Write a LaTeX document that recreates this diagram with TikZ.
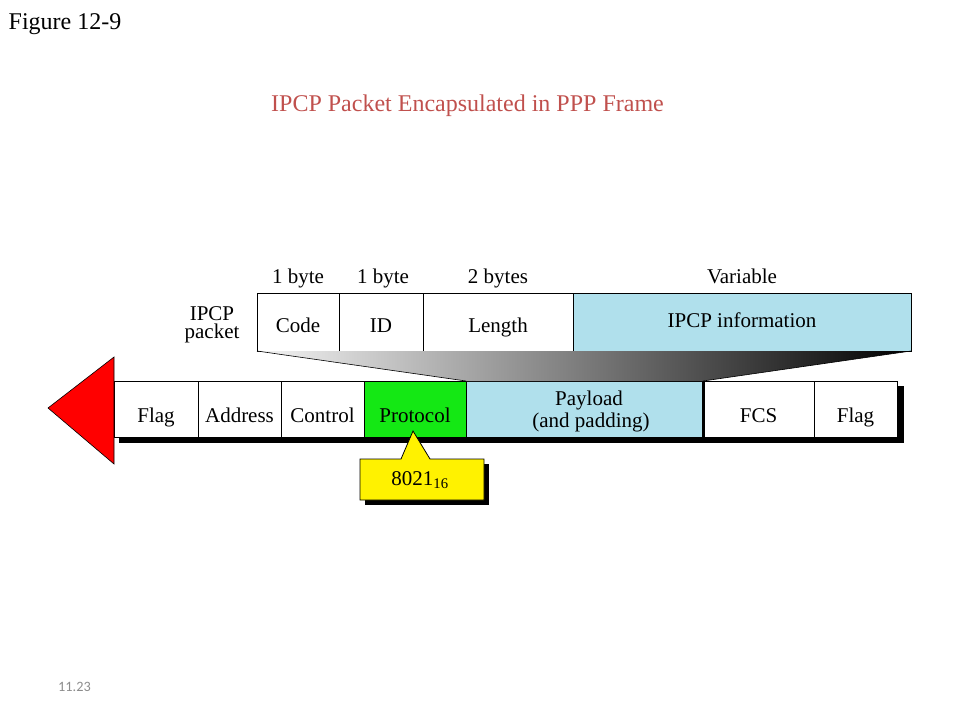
\documentclass[tikz,border=0pt]{standalone}
\usepackage{fontspec}
\setmainfont{Liberation Serif}
\newfontfamily\slidesans{Carlito}
\definecolor{titlered}{RGB}{192,80,77}
\definecolor{lightblue}{RGB}{176,224,236}
\definecolor{brightgreen}{RGB}{20,232,20}
\definecolor{pagegray}{RGB}{140,140,140}
\begin{document}
\begin{tikzpicture}[x=1pt,y=-1pt,
  field/.style={draw=black, line width=0.9pt, inner sep=0pt, outer sep=0pt, fill=white,
    font=\fontsize{21}{23}\selectfont, text depth=0pt},
  framefield/.style={field, minimum height=56pt, text height=26pt},
  packfield/.style={field, minimum height=58pt, text height=20pt},
  txt/.style={font=\fontsize{21}{23}\selectfont, inner sep=0pt, anchor=base}]
\useasboundingbox (0,0) rectangle (960,720);

% headings
\node[anchor=base west, inner sep=0pt, font=\fontsize{24}{26}\selectfont] (fig) at (8.5,29) {Figure 12-9};
\node[anchor=base, inner sep=0pt, text=titlered, font=\fontsize{24}{26}\selectfont] (title) at (467.5,111) {IPCP Packet Encapsulated in PPP Frame};
\node[anchor=base west, inner sep=0pt, text=pagegray, font=\slidesans\fontsize{14.3}{16}\selectfont] (pg) at (58,691.5) {11.23};

% frame shadow
\fill[black] (119,386) rectangle (904,443);

% PPP frame fields
\node[framefield, minimum width=84pt] (flagA) at (156,409) {Flag};
\node[framefield, minimum width=83pt] (addr) at (239.5,409) {Address};
\node[framefield, minimum width=83pt] (ctrl) at (322.5,409) {Control};
\node[framefield, fill=brightgreen, minimum width=102pt] (proto) at (415,409) {Protocol};
\node[framefield, fill=lightblue, minimum width=236pt] (payload) at (584,409) {};
\node[framefield, minimum width=111pt] (fcs) at (758.5,409) {FCS};
\node[framefield, minimum width=83pt] (flagB) at (855.5,409) {Flag};
\draw[line width=3pt] ([xshift=1.5pt]payload.north east) -- ([xshift=1.5pt]payload.south east);
\node[txt] (pl1) at (589,405.7) {Payload};
\node[txt] (pl2) at (591,427.5) {(and padding)};

% IPCP packet fields
\node[packfield, minimum width=82pt] (code) at (298,322) {Code};
\node[packfield, minimum width=84pt] (id) at (381,322) {ID};
\node[packfield, minimum width=150pt] (len) at (498,322) {Length};
\node[packfield, fill=lightblue, minimum width=338pt, text height=10pt] (info) at (742,322) {IPCP information};

% size labels
\node[txt] (l1) at (298,283) {1 byte};
\node[txt] (l2) at (383,283) {1 byte};
\node[txt] (l3) at (498,283) {2 bytes};
\node[txt] (l4) at (742,283) {Variable};
\node[inner sep=0pt, anchor=north, align=center, font=\fontsize{21}{18}\selectfont] (pk) at (212,306.5) {IPCP\\packet};

% gradient encapsulation wedge
\shade[left color=gray!8, right color=black] (code.south west) -- (info.south east) -- (fcs.north west) -- (payload.north west) -- cycle;
\draw[line width=0.6pt] (code.south west) -- (payload.north west);
\draw[line width=0.6pt] (info.south east) -- (fcs.north west);

% red arrow head
\coordinate (tip) at (48,408);
\filldraw[fill=red, draw=black, line width=0.6pt] (tip) -- (114,357) -- (114,464) -- cycle;

% callout
\fill[black] (365,464) rectangle (489,505);
\filldraw[fill=yellow, draw=black, line width=0.8pt] (360,459) -- (401,459) -- (413,431) -- (430,459) -- (484,459) -- (484,500) -- (360,500) -- cycle;
\node[txt] (val) at (420,485) {8021\textsubscript{16}};
\end{tikzpicture}
\end{document}
